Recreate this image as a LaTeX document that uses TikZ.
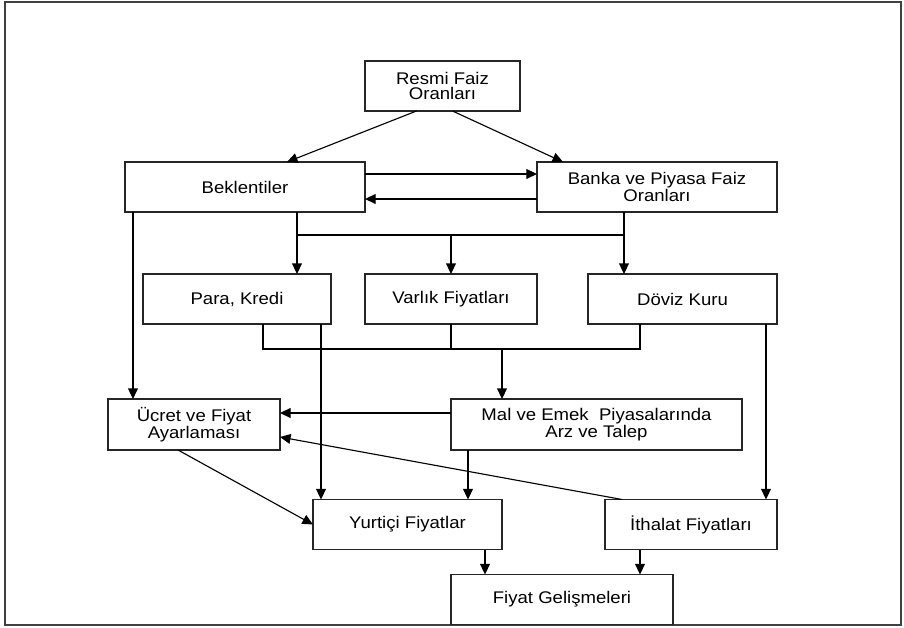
\documentclass[tikz,border=0pt]{standalone}
\usepackage{fontspec}
\setmainfont{Liberation Sans}[FakeStretch=1.1]
\usetikzlibrary{calc,positioning,arrows.meta}

\begin{document}
\begin{tikzpicture}[x=0.025cm, y=-0.025cm, line width=0.8pt, arr/.style={-{Triangle[length=7.5pt,width=7pt]}}]
\tikzstyle{box}=[rectangle, draw=black!85, inner sep=0pt, outer sep=0pt, minimum height=1.25cm, align=center, font=\fontsize{12}{10.8}\selectfont]
\useasboundingbox (0,0) rectangle (904,628);
\draw[line width=1.2pt, black!75] (5,2) rectangle (901,625);
\node[box, minimum width=3.875cm] (resmi) at (442.5,86){Resmi Faiz\\Oranları};
\node[box, minimum width=6cm] (bek) at (245,187){Beklentiler};
\node[box, minimum width=6cm] (banka) at (657,187){Banka ve Piyasa Faiz\\Oranları};
\node[box, minimum width=4.7cm] (para) at (237,299){Para, Kredi};
\node[box, minimum width=4.3cm] (varlik) at (451,299){Varlık Fiyatları};
\node[box, minimum width=4.725cm] (doviz) at (682.5,299){Döviz Kuru};
\node[box, minimum width=4.3cm, minimum height=1.275cm] (ucret) at (194,424.5){Ücret ve Fiyat\\Ayarlaması};
\node[box, minimum width=7.275cm, minimum height=1.275cm] (mal) at (596.5,424.5){Mal ve Emek~ Piyasalarında\\Arz ve Talep};
\node[box, minimum width=4.725cm] (yurt) at (407.5,524.5){Yurtiçi Fiyatlar};
\node[box, minimum width=4.3cm] (ithalat) at (691,524.5){İthalat Fiyatları};
\node[box, minimum width=5.55cm] (fiyat) at (562,599.5){Fiyat Gelişmeleri};
% top level
\draw[arr] ($(resmi.south)+(-26,0)$) -- ($(bek.north)+(42,0)$);
\draw[arr] ($(resmi.south)+(10,0)$) -- ($(banka.north)+(-94,0)$);
\draw[arr] ($(bek.east)+(0,-13)$) -- ($(banka.west)+(0,-13)$);
\draw[arr] ($(banka.west)+(0,12)$) -- ($(bek.east)+(0,12)$);
% first bus
\coordinate (bus1) at ($(bek.south)+(52,23)$);
\coordinate (bus2) at ($(banka.south)+(-33,23)$);
\draw (bek.south -| bus1) -- (bus1) -- (bus2) -- (banka.south -| bus2);
\draw[arr] (bus1) -- (para.north -| bus1);
\draw[arr] (varlik.north |- bus1) -- (varlik.north);
\draw[arr] (bus2) -- (doviz.north -| bus2);
% second bus
\coordinate (bus3) at ($(para.south)+(26,25)$);
\coordinate (bus4) at ($(doviz.south)+(-42.5,25)$);
\coordinate (m1) at ($(mal.north)+(-94.5,0)$);
\draw (para.south -| bus3) -- (bus3) -- (bus4) -- (doviz.south -| bus4);
\draw (varlik.south) -- (varlik.south |- bus3);
\draw[arr] (bus3 -| m1) -- (m1);
% long lines
\coordinate (b0) at ($(bek.south west)+(8,0)$);
\coordinate (p1) at ($(para.south)+(84,0)$);
\coordinate (d1) at ($(doviz.south)+(83.5,0)$);
\coordinate (m2) at ($(mal.south)+(-128.5,0)$);
\draw[arr] (b0) -- (ucret.north -| b0);
\draw[arr] (p1) -- (yurt.north -| p1);
\draw[arr] (d1) -- (ithalat.north -| d1);
\draw[arr] (m2) -- (yurt.north -| m2);
\draw[arr] ($(mal.west)+(0,-11.5)$) -- ($(ucret.east)+(0,-11.5)$);
\draw[arr] ($(ithalat.north)+(-69,0)$) -- ($(ucret.east)+(0,12.5)$);
\draw[arr] ($(ucret.south)+(-16,0)$) -- (yurt.west);
% bottom
\coordinate (y1) at ($(yurt.south)+(77.5,0)$);
\coordinate (i1) at ($(ithalat.south)+(-51,0)$);
\draw[arr] (y1) -- (fiyat.north -| y1);
\draw[arr] (i1) -- (fiyat.north -| i1);
\end{tikzpicture}
\end{document}
